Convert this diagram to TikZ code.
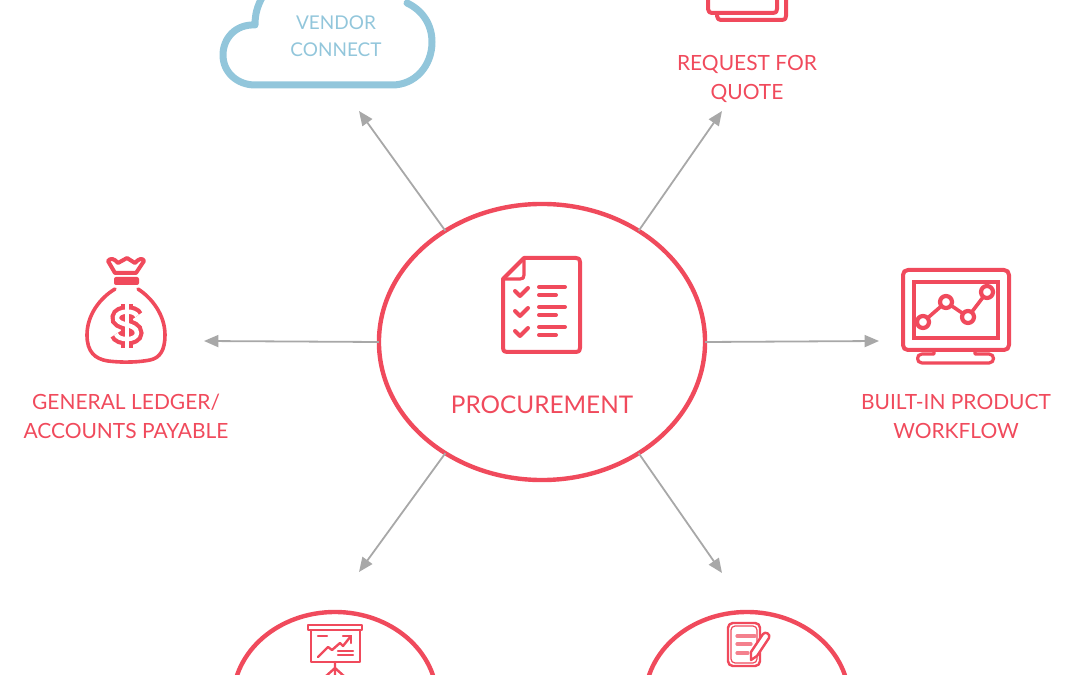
\documentclass[tikz,border=0pt]{standalone}
\usepackage{fontspec}
\setmainfont{Lato}
\usetikzlibrary{arrows.meta,shapes.geometric}
\definecolor{procred}{HTML}{F04A5C}
\definecolor{cloudblue}{HTML}{92C6DB}
\definecolor{linkgray}{HTML}{A8A8A8}
\tikzset{
  hub/.style={draw=procred,ellipse,line width=1.1mm,inner sep=0pt,outer sep=0pt},
  lbl/.style={text=procred,align=center,font=\fontsize{14.9}{20.6}\selectfont,inner sep=0pt},
  link/.style={draw=linkgray,line width=.45mm,-{Stealth[length=3.6mm,width=3mm,inset=0pt]}},
  icon/.style={draw=procred,line width=1mm,line join=round,line cap=round},
  fine/.style={draw=procred,line width=.6mm,line join=round,line cap=round}
}
\begin{document}
\begin{tikzpicture}[x=0.025cm,y=-0.025cm]
\useasboundingbox (0,0) rectangle (1080,675);
\clip (0,0) rectangle (1080,675);
% hubs
\node[hub,minimum width=8.15cm,minimum height=6.9cm] (proc) at (542,342) {};
\node[hub,minimum width=5.1cm,minimum height=4.4cm] (report) at (335,700) {};
\node[hub,minimum width=5.1cm,minimum height=4.4cm] (order) at (747,700) {};
% labels
\node[lbl,font=\fontsize{17.3}{22}\selectfont] (proclbl) at (542,405) {PROCUREMENT};
\node[lbl,text=cloudblue,font=\fontsize{13.5}{19.2}\selectfont] (vendor) at (336,36) {VENDOR\\CONNECT};
\node[lbl] (quote) at (747,78.5) {REQUEST FOR\\QUOTE};
\node[lbl] (ledger) at (126,416.5) {GENERAL LEDGER/\\ACCOUNTS PAYABLE};
\node[lbl] (flow) at (956,416.5) {BUILT-IN PRODUCT\\WORKFLOW};
% free ends of the connectors
\coordinate (toVendor) at (359,111);
\coordinate (toQuote) at (722,111);
\coordinate (toLedger) at (204,341);
\coordinate (toFlow) at (879,341);
\coordinate (toReport) at (359,572);
\coordinate (toOrder) at (722,573);
\foreach \a/\t in {131/toVendor,49/toQuote,180/toLedger,0/toFlow,229/toReport,-49/toOrder}
  \draw[link] (proc.\a) -- (\t);
% cloud
\draw[draw=cloudblue,line width=1.75mm,line cap=round,line join=round]
  (263,-4) .. controls (257,6) and (255,15) .. (255,25)
  .. controls (236,24) and (223,38) .. (223,55)
  .. controls (223,73) and (238,85) .. (255,85)
  -- (392,85) .. controls (415,85) and (432,66) .. (432,42)
  .. controls (432,24) and (422,10) .. (407,3);
% stacked sheets
\draw[icon] (708,-3) -- (708,9) .. controls (708,12) and (710,13) .. (712,13)
  -- (773,13) .. controls (776,13) and (777,12) .. (777,9) -- (777,-3);
\draw[icon] (717,14) -- (717,16) .. controls (717,19) and (719,20) .. (721,20)
  -- (782,20) .. controls (785,20) and (786,19) .. (786,16) -- (786,-3);
% checklist
\draw[icon] (503,279) -- (524,258) -- (576,258) .. controls (579,258) and (580,259) .. (580,262)
  -- (580,348) .. controls (580,351) and (579,352) .. (576,352)
  -- (507,352) .. controls (504,352) and (503,351) .. (503,348) -- cycle;
\draw[icon,line width=.8mm] (503,279) -- (520,279) .. controls (523,279) and (524,278) .. (524,275) -- (524,258);
\foreach \y in {0,20,40} {
  \draw[icon] (515,291+\y) -- (520,296+\y) -- (528,288+\y);
  \draw[icon] (539,287+\y) -- (565,287+\y);
  \draw[icon] (539,295+\y) -- (556,295+\y);
}
% money bag
\draw[icon] (115,273) -- (108,261) .. controls (110,258) and (114,258) .. (118,263)
  -- (127,258) -- (135,263) .. controls (139,258) and (143,258) .. (144,261) -- (136,273) -- cycle;
\fill[procred,rounded corners=.5mm] (114,277) rectangle (139,285);
\draw[icon,line width=.9mm] (115,289) .. controls (100,298) and (87,315) .. (87,335)
  .. controls (87,352) and (95,359) .. (108,361)
  .. controls (125,363) and (140,362) .. (150,360)
  .. controls (160,358) and (165,350) .. (165,335)
  .. controls (165,315) and (152,298) .. (138,289);
\foreach \w/\c in {3.2mm/procred,1.1mm/white} {
  \draw[draw=\c,line width=\w] (127,304) -- (127,348);
  \draw[draw=\c,line width=\w] (137,316) .. controls (135,310) and (118,310) .. (117,317)
    .. controls (115,326) and (137,323) .. (137,333)
    .. controls (137,341) and (118,341) .. (116,334);
}
% monitor
\draw[icon] (908,270) -- (1004,270) .. controls (1007,270) and (1009,272) .. (1009,275)
  -- (1009,345) .. controls (1009,348) and (1007,350) .. (1004,350)
  -- (908,350) .. controls (905,350) and (903,348) .. (903,345)
  -- (903,275) .. controls (903,272) and (905,270) .. (908,270) -- cycle;
\draw[icon,line join=miter] (914,282) rectangle (998,338);
\draw[icon,line width=.8mm] (934,350) -- (934,354) -- (922,354) .. controls (916,354) and (916,363) .. (922,363)
  -- (989,363) .. controls (995,363) and (995,354) .. (989,354) -- (975,354) -- (975,350);
\draw[fine,line width=.9mm] (923,322) -- (946,302) -- (968,317) -- (987,292);
\foreach \p in {(923,322),(946,302),(968,317),(987,292)}
  \draw[fine,line width=1.05mm,fill=white] \p circle (.15cm);
% chart board
\draw[fine] (308,625) rectangle (362,630);
\draw[fine] (311,630) rectangle (360,662);
\draw[fine] (318,636) -- (327,636) (338,651) -- (353,651) (338,655) -- (353,655);
\draw[fine] (318,657) -- (328,647) -- (332,650) -- (340,643) -- (343,646) -- (351,636);
\draw[fine] (343,636) -- (351,636) -- (351,643);
\draw[fine] (335,662) -- (335,678) (335,668) -- (325,677) (335,668) -- (345,677);
% notepad
\draw[fine,rounded corners=1.2mm] (728,623) rectangle (760,666);
\draw[fine,line width=.3mm,rounded corners=1mm] (731,626) rectangle (757,663);
\foreach \y/\e in {636/755,644/751,653/748}
  \draw[fine,line width=.8mm,draw=procred!70] (737,\y) -- (\e,\y);
\draw[fine,fill=white] (751,652) -- (763,634) .. controls (765,631) and (771,634) .. (769,638)
  -- (757,656) -- (751,660) -- cycle;
\end{tikzpicture}
\end{document}
